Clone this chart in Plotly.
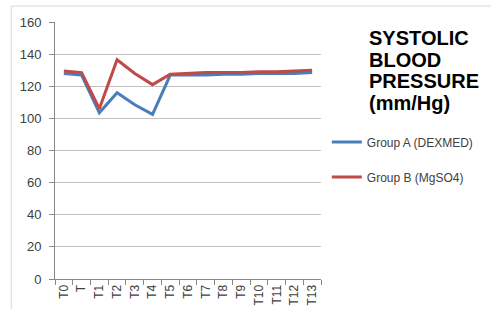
import plotly.graph_objects as go

categories = ["T0", "T", "T1", "T2", "T3", "T4", "T5", "T6", "T7", "T8", "T9", "T10", "T11", "T12", "T13"]
group_a = [128, 127, 103.5, 116, 108.5, 102.5, 127, 127, 127, 127.5, 127.5, 128, 128, 128, 128.5]
group_b = [129.5, 128.5, 106, 136.5, 128, 121, 127.5, 128, 128.5, 128.5, 128.5, 129, 129, 129.5, 130]
y_ticks = [0, 20, 40, 60, 80, 100, 120, 140, 160]
title_lines = ["SYSTOLIC", "BLOOD", "PRESSURE", "(mm/Hg)"]

FW, FH = 491, 309
# plot area geometry in page pixels
L, R, T, B = 55, 329, 22, 279
W, H = R - L, B - T


def px(x):
    return (x - L) / W


def py(y):
    return (B - y) / H


fig = go.Figure()
fig.add_trace(go.Scatter(x=categories, y=group_a, mode="lines", name="Group A (DEXMED)",
                         line=dict(color="#4A7EBB", width=3), legend="legend"))
fig.add_trace(go.Scatter(x=categories, y=group_b, mode="lines", name="Group B (MgSO4)",
                         line=dict(color="#BE4B48", width=3), legend="legend2"))

font = "Liberation Sans, Arial, sans-serif"
title_y = [38, 60, 81.5, 103]
annotations = [
    dict(text="<b>%s</b>" % t, xref="paper", yref="paper", x=px(376), y=py(yy),
         xanchor="left", yanchor="middle", align="left", showarrow=False,
         font=dict(family=font, size=20, color="#000000"))
    for t, yy in zip(title_lines, title_y)
]

fig.update_layout(
    width=FW, height=FH,
    margin=dict(l=L, r=FW - R, t=T, b=FH - B),
    paper_bgcolor="white", plot_bgcolor="white",
    font=dict(family=font, color="#404040"),
    showlegend=True,
    legend=dict(x=px(335), y=py(142), xref="paper", yref="paper",
                xanchor="left", yanchor="middle", font=dict(size=12, color="#404040"),
                bgcolor="rgba(0,0,0,0)", itemwidth=30),
    legend2=dict(x=px(335), y=py(177), xref="paper", yref="paper",
                 xanchor="left", yanchor="middle", font=dict(size=12, color="#404040"),
                 bgcolor="rgba(0,0,0,0)", itemwidth=30),
    xaxis=dict(
        type="category", categoryorder="array", categoryarray=categories,
        range=[-0.5, len(categories) - 0.5], automargin=False,
        tickangle=-90, tickfont=dict(size=12, color="#404040"),
        ticks="outside", tickson="boundaries", ticklen=5, tickcolor="#888888",
        showline=True, linecolor="#888888", linewidth=1, showgrid=False,
    ),
    yaxis=dict(
        range=[0, 160], tickvals=y_ticks, tickfont=dict(size=13, color="#404040"),
        ticks="outside", ticklen=5, tickcolor="#888888", automargin=False,
        ticklabelstandoff=5,
        showline=True, linecolor="#888888", linewidth=1,
        showgrid=True, gridcolor="#C0C0C0", gridwidth=1, zeroline=False,
    ),
    annotations=annotations,
    shapes=[
        dict(type="line", xref="paper", yref="paper", x0=px(10), x1=1.7,
             y0=py(6), y1=py(6), line=dict(color="#D9D9D9", width=1)),
        dict(type="line", xref="paper", yref="paper", x0=px(10), x1=px(10),
             y0=py(6), y1=-0.2, line=dict(color="#D9D9D9", width=1)),
    ],
)
fig.write_html("out.html", config={"displayModeBar": False},
               post_script="document.body.style.margin='0';document.body.style.overflow='hidden';")
